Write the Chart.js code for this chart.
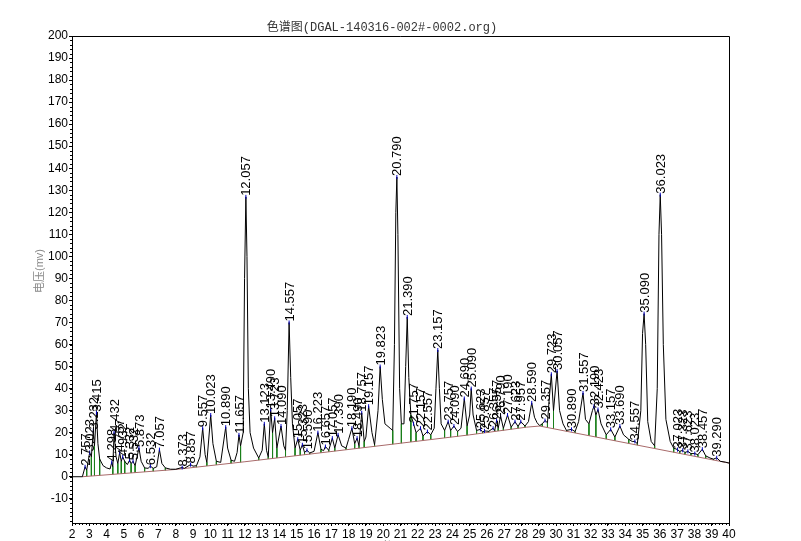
<!DOCTYPE html>
<html>
<head>
<meta charset="utf-8">
<script src="https://cdn.jsdelivr.net/npm/chart.js@4.4.1/dist/chart.umd.min.js"></script>
<style>
body { margin: 0; background: #fff; }
</style>
</head>
<body>
<canvas id="chromChart" width="801" height="541"></canvas>
<script>
// signal trace: [time (min), voltage (mV)]
const traceData = [
    [2.0,0],[2.6,0],[2.757,4.5],[2.85,3],[3.023,11],[3.12,9],[3.232,21],[3.3,14],[3.415,29],[3.5,15],[3.6,8],[3.8,5],[4.0,4],[4.2,3.5],
    [4.298,6.5],[4.36,4.5],[4.432,20],[4.55,9],[4.65,6],[4.757,11],[4.85,7],[4.932,9],[5.05,7],[5.2,5.5],[5.332,7.5],[5.42,6],[5.532,7],
    [5.65,5],[5.873,13],[6.0,7],[6.2,4],[6.4,3.8],[6.532,4.8],[6.7,3.8],[6.9,4.5],[7.057,12.3],[7.2,6],[7.4,4],[7.7,3.4],[8.0,3.4],
    [8.373,4.2],[8.5,3.8],[8.857,5.5],[9.0,4.8],[9.2,5],[9.4,9],[9.557,22],[9.7,10],[9.8,6.5],[10.023,28],[10.15,15],[10.35,7],[10.6,6.5],
    [10.89,22.5],[11.0,13],[11.2,7.5],[11.4,7],[11.55,11],[11.657,19],[11.75,14],[11.9,20],[11.98,90],[12.057,127],[12.12,100],[12.2,40],
    [12.3,20],[12.5,13],[12.8,8.5],[13.0,12],[13.123,24],[13.25,12],[13.35,9],[13.49,30.5],[13.6,20],[13.723,26.5],[13.85,13],[14.09,23],
    [14.25,14],[14.35,12],[14.45,30],[14.557,70],[14.65,45],[14.75,24],[14.9,13],[15.057,17],[15.2,12],[15.323,14.5],[15.45,11],[15.59,12],
    [15.75,10.8],[16.0,11.5],[16.223,20],[16.4,12.5],[16.55,11.8],[16.657,13.7],[16.85,12],[17.057,17.5],[17.2,13],[17.39,19],[17.6,14],
    [17.85,13],[18.0,17],[18.19,22],[18.35,15],[18.49,17.5],[18.6,14],[18.757,29],[18.9,16],[19.0,18],[19.157,32],[19.35,20],[19.5,14.5],
    [19.7,30],[19.823,50],[19.95,35],[20.1,24],[20.4,22],[20.55,21],[20.65,60],[20.73,120],[20.79,136],[20.85,110],[20.95,40],[21.05,24],
    [21.2,24],[21.3,50],[21.39,72.5],[21.48,45],[21.6,28],[21.757,24],[21.9,20],[22.157,22],[22.3,18.5],[22.557,20.5],[22.75,19],[22.95,22],
    [23.05,40],[23.157,57.5],[23.25,40],[23.35,24],[23.55,21],[23.757,25],[23.9,21],[24.09,23],[24.3,20.5],[24.5,22],[24.69,35.5],[24.85,23],
    [25.0,28],[25.09,40],[25.2,28],[25.4,21],[25.623,21.5],[25.75,20.3],[25.857,20.8],[26.1,20.6],[26.357,22],[26.45,21],[26.557,25.5],
    [26.65,22],[26.79,27.5],[26.95,22],[27.19,28],[27.4,22.5],[27.623,25],[27.8,22.8],[27.957,25],[28.2,23],[28.4,25],[28.59,33.5],[28.75,27],
    [28.9,24.5],[29.05,23.2],[29.2,24],[29.357,25.5],[29.5,24.5],[29.6,35],[29.723,46.5],[29.85,30],[30.057,48],[30.2,30],[30.4,24],[30.6,21],
    [30.89,21.5],[31.1,20.5],[31.3,25],[31.557,38],[31.7,26],[31.9,24],[32.1,30],[32.19,32],[32.3,28],[32.423,30.5],[32.6,24],[32.9,19],
    [33.157,21.5],[33.4,18],[33.69,23],[33.9,19],[34.2,17],[34.4,16],[34.557,16],[34.7,15],[34.9,30],[35.0,65],[35.09,74],[35.18,60],
    [35.3,25],[35.5,16],[35.7,14],[35.85,40],[35.95,110],[36.023,128],[36.1,110],[36.2,60],[36.35,26],[36.6,16],[36.8,13],[37.023,12.3],
    [37.15,11.5],[37.323,12],[37.45,11],[37.623,11.5],[37.8,10.5],[38.023,10.5],[38.2,10],[38.457,12.5],[38.65,9.5],[38.9,8.5],[39.1,8],
    [39.29,8.6],[39.5,7],[39.8,6.6],[40.0,6.2]
];

// integration baseline vertices
const baselineData = [[2.6,0],[8,3.3],[12,6.8],[16,10.5],[20.8,15],[25,19],[28.3,22.5],[29.05,23],[40,6.2]];

// valleys where the green drop lines fall to the baseline
const dropTimes = [2.85,3.12,3.3,3.6,4.36,4.65,4.85,5.05,5.42,5.65,6.2,6.7,7.4,8.0,8.5,9.2,9.8,10.35,11.2,11.75,12.8,13.35,13.6,13.85,
    14.35,14.9,15.2,15.45,15.75,16.4,16.85,17.2,17.85,18.35,18.6,18.9,19.5,20.55,21.05,21.6,21.9,22.3,22.75,23.55,23.9,24.3,24.85,25.4,
    25.75,26.1,26.45,26.65,26.95,27.4,27.8,28.2,29.2,29.5,29.85,30.6,31.1,31.9,32.3,32.9,33.4,34.2,34.7,35.7,36.8,37.15,37.45,37.8,38.2,
    38.65,39.1,39.5];

// retention times printed over the peaks
const peakTimes = [2.757,3.023,3.232,3.415,4.298,4.432,4.757,4.932,5.332,5.532,5.873,6.532,7.057,8.373,8.857,9.557,10.023,10.89,11.657,
    12.057,13.123,13.49,13.723,14.09,14.557,15.057,15.323,15.59,16.223,16.657,17.057,17.39,18.19,18.49,18.757,19.157,19.823,20.79,21.39,
    21.757,22.157,22.557,23.157,23.757,24.09,24.69,25.09,25.623,25.857,26.357,26.557,26.79,27.19,27.623,27.957,28.59,29.357,29.723,30.057,
    30.89,31.557,32.19,32.423,33.157,33.69,34.557,35.09,36.023,37.023,37.323,37.623,38.023,38.457,39.29];

const yTickValues = [-10,0,10,20,30,40,50,60,70,80,90,100,110,120,130,140,150,160,170,180,190,200];
const xTickValues = [2,3,4,5,6,7,8,9,10,11,12,13,14,15,16,17,18,19,20,21,22,23,24,25,26,27,28,29,30,31,32,33,34,35,36,37,38,39,40];

const tickFont = { family: '"Liberation Sans", Arial, sans-serif', size: 12 };

function mvAt(t) {
    const p = traceData.find(d => Math.abs(d[0] - t) < 1e-9);
    return p ? p[1] : 0;
}

function baseAt(t) {
    for (let i = 1; i < baselineData.length; i++) {
        const a = baselineData[i - 1], b = baselineData[i];
        if (t <= b[0]) return a[1] + (b[1] - a[1]) * (t - a[0]) / (b[0] - a[0]);
    }
    return baselineData[baselineData.length - 1][1];
}

const dropData = [];
dropTimes.forEach(t => {
    dropData.push({ x: t, y: mvAt(t) }, { x: t, y: baseAt(t) }, { x: t, y: null });
});

const chromDecor = {
    id: 'chromDecor',
    afterDraw(chart) {
        const { ctx, chartArea: a, scales: { x, y } } = chart;
        ctx.save();
        ctx.strokeStyle = '#000';
        ctx.lineWidth = 1;
        ctx.beginPath();
        ctx.moveTo(a.left, a.top + 0.5);
        ctx.lineTo(a.right + 0.5, a.top + 0.5);
        ctx.lineTo(a.right + 0.5, a.bottom);
        // minor ticks on the left and bottom axes
        for (let v = -20; v <= 200; v += 2) {
            const py = Math.round(y.getPixelForValue(v)) + 0.5;
            ctx.moveTo(a.left - 2, py);
            ctx.lineTo(a.left, py);
        }
        for (let i = 0; i <= 190; i++) {
            const px = Math.round(x.getPixelForValue(2 + i * 0.2)) + 0.5;
            ctx.moveTo(px, a.bottom);
            ctx.lineTo(px, a.bottom + 2);
        }
        ctx.stroke();

        // peak labels
        ctx.fillStyle = '#000';
        ctx.font = '13px "Liberation Sans", Arial, sans-serif';
        ctx.textAlign = 'left';
        ctx.textBaseline = 'middle';
        peakTimes.forEach(t => {
            const px = x.getPixelForValue(t), py = y.getPixelForValue(mvAt(t));
            ctx.save();
            ctx.translate(px + 1, py - 1);
            ctx.rotate(-Math.PI / 2);
            ctx.fillText(t.toFixed(3), 0, 0);
            ctx.restore();
        });

        // titles
        ctx.fillStyle = '#333';
        ctx.font = '12px "Liberation Mono", "Noto Sans CJK SC", monospace';
        ctx.textAlign = 'center';
        ctx.fillText('色谱图(DGAL-140316-002#-0002.org)', 382, 28);

        ctx.fillStyle = '#888';
        ctx.font = '11px "Liberation Sans", "Noto Sans CJK SC", sans-serif';
        ctx.save();
        ctx.translate(40, 271);
        ctx.rotate(-Math.PI / 2);
        ctx.fillText('电压(mv)', 0, 0);
        ctx.restore();
        ctx.fillText('时间(min)', 400, 547);
        ctx.restore();
    }
};

new Chart(document.getElementById('chromChart'), {
    type: 'line',
    data: {
        datasets: [
            {
                label: 'drops',
                data: dropData,
                borderColor: '#1a7f1a',
                borderWidth: 1,
                pointRadius: 0,
                spanGaps: false,
                order: 3
            },
            {
                label: 'baseline',
                data: baselineData.map(d => ({ x: d[0], y: d[1] })),
                borderColor: '#a86a6a',
                borderWidth: 1,
                pointRadius: 0,
                order: 2
            },
            {
                label: 'signal',
                data: traceData.map(d => ({ x: d[0], y: d[1] })),
                borderColor: '#000',
                borderWidth: 1,
                pointRadius: 0,
                tension: 0,
                order: 1
            },
            {
                label: 'apex',
                data: peakTimes.map(t => ({ x: t, y: mvAt(t) })),
                showLine: false,
                pointStyle: 'line',
                rotation: 90,
                pointRadius: 2,
                borderColor: '#0000c0',
                borderWidth: 1,
                order: 0
            }
        ]
    },
    options: {
        responsive: false,
        animation: false,
        layout: { padding: { left: 0, top: 36, right: 72, bottom: 0 } },
        plugins: { legend: { display: false }, tooltip: { enabled: false }, title: { display: false } },
        scales: {
            x: {
                type: 'linear',
                min: 2,
                max: 40,
                afterFit: s => { s.height = 18; },
                afterBuildTicks: s => { s.ticks = xTickValues.map(v => ({ value: v })); },
                ticks: { autoSkip: false, maxRotation: 0, padding: 1, color: '#000', font: tickFont },
                grid: { drawOnChartArea: false, drawTicks: true, tickLength: 3, color: '#000' },
                border: { display: true, color: '#000' }
            },
            y: {
                min: -21,
                max: 200,
                afterFit: s => { s.width = 72; },
                afterBuildTicks: s => { s.ticks = yTickValues.map(v => ({ value: v })); },
                ticks: { autoSkip: false, padding: 1, color: '#000', font: tickFont },
                grid: { drawOnChartArea: false, drawTicks: true, tickLength: 3, color: '#000' },
                border: { display: true, color: '#000' }
            }
        }
    },
    plugins: [chromDecor]
});
</script>
</body>
</html>
